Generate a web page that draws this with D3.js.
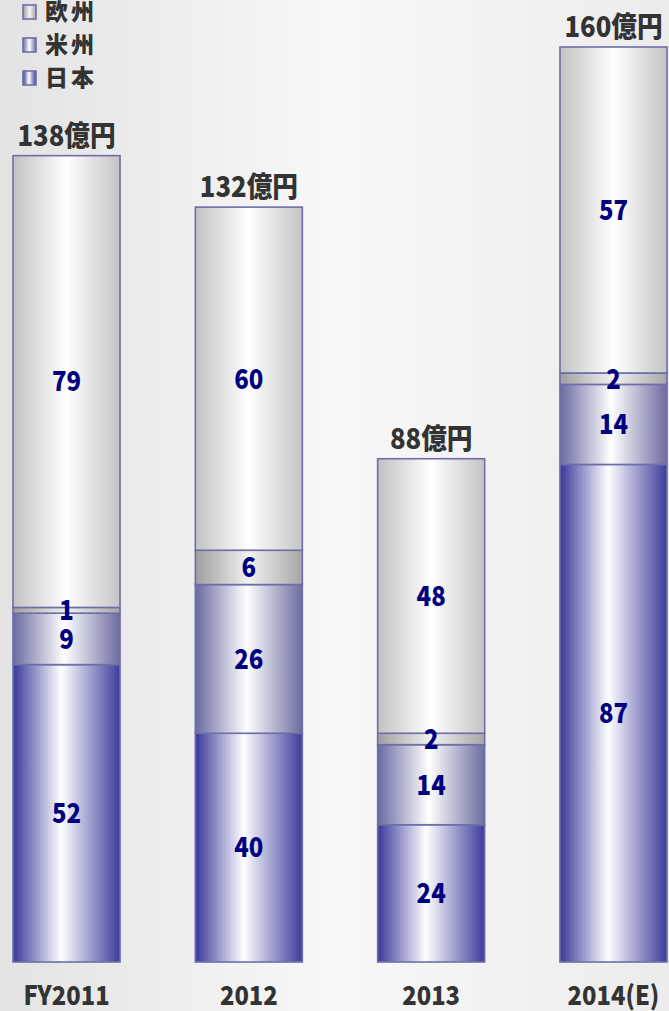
<!DOCTYPE html>
<html><head><meta charset="utf-8">
<script src="https://cdn.jsdelivr.net/npm/d3@7"></script>
<style>body{margin:0;padding:0;overflow:hidden}svg{display:block}</style>
</head><body>
<script>
const categories = ["FY2011", "2012", "2013", "2014(E)"];
const japan = [52, 40, 24, 87];
const americas = [9, 26, 14, 14];
const europe = [1, 6, 2, 2];
const other = [79, 60, 48, 57];
const totalLabels = ["138億円", "132億円", "88億円", "160億円"];
const seriesNames = ["日本", "米州", "欧州", "その他"];
const legendNames = ["欧州", "米州", "日本"];

const W = 669, H = 1011;
const svg = d3.select("body").append("svg").attr("width", W).attr("height", H);
const defs = svg.append("defs");

const bg = defs.append("linearGradient").attr("id", "bg").attr("x1", 0).attr("x2", 1).attr("y1", 0).attr("y2", 0);
[["0%", "#e3e3e3"], ["50%", "#f8f8f8"], ["100%", "#ececec"]].forEach(s => bg.append("stop").attr("offset", s[0]).attr("stop-color", s[1]));
svg.append("rect").attr("width", W).attr("height", H).attr("fill", "url(#bg)");

const grads = {
  "日本": [["0%", "#38389a"], ["45%", "#ffffff"], ["100%", "#3c3c9c"]],
  "米州": [["0%", "#6a6aa2"], ["48%", "#ffffff"], ["100%", "#6c6ca0"]],
  "欧州": [["0%", "#9e9e9e"], ["50%", "#f2f2f2"], ["100%", "#a6a6a6"]],
  "その他": [["0%", "#c2c2c2"], ["50%", "#ffffff"], ["100%", "#c4c4c4"]]
};
seriesNames.forEach((n, i) => {
  const g = defs.append("linearGradient").attr("id", "g" + i).attr("x1", 0).attr("x2", 1).attr("y1", 0).attr("y2", 0);
  grads[n].forEach(s => g.append("stop").attr("offset", s[0]).attr("stop-color", s[1]));
});

const data = categories.map((c, i) => ({cat: c, "日本": japan[i], "米州": americas[i], "欧州": europe[i], "その他": other[i], label: totalLabels[i]}));
const stack = d3.stack().keys(seriesNames)(data);

const x = d3.scaleBand().domain(categories).range([13, 667]).paddingInner(0.413).paddingOuter(0);
const y = d3.scaleLinear().domain([0, 160]).range([962, 47]);

const fontF = "'Noto Sans CJK JP','Noto Sans',sans-serif";

stack.forEach((layer, li) => {
  const g = svg.append("g");
  g.selectAll("rect").data(layer).join("rect")
    .attr("x", d => x(d.data.cat))
    .attr("y", d => y(d[1]))
    .attr("width", x.bandwidth())
    .attr("height", d => y(d[0]) - y(d[1]))
    .attr("fill", "url(#g" + li + ")")
    .attr("stroke", "#6e6ea8").attr("stroke-width", 1.6);
});

stack.forEach((layer, li) => {
  svg.append("g").selectAll("text").data(layer).join("text")
    .attr("transform", d => `translate(${x(d.data.cat) + x.bandwidth() / 2},${(y(d[0]) + y(d[1])) / 2}) scale(0.92,1.05)`)
    .attr("dy", "0.36em")
    .attr("text-anchor", "middle")
    .attr("font-family", fontF).attr("font-weight", 900).attr("font-size", 26)
    .attr("fill", "#000080")
    .text(d => d[1] - d[0]);
});

// totals
svg.append("g").selectAll("text").data(data).join("text")
  .attr("transform", (d, i) => `translate(${x(d.cat) + x.bandwidth() / 2},${y(stack[3][i][1]) - 10}) scale(0.95,1.05)`)
  .attr("text-anchor", "middle")
  .attr("font-family", fontF).attr("font-weight", 900).attr("font-size", 27)
  .attr("fill", "#333333")
  .text(d => d.label);

// category labels
svg.append("g").selectAll("text").data(categories).join("text")
  .attr("transform", d => `translate(${x(d) + x.bandwidth() / 2},1005) scale(0.95,1.05)`)
  .attr("text-anchor", "middle")
  .attr("font-family", fontF).attr("font-weight", 900).attr("font-size", 25)
  .attr("fill", "#333333")
  .text(d => d);

// legend
const lg = svg.append("g");
legendNames.forEach((n, i) => {
  const cy = 12 + i * 33;
  const si = seriesNames.indexOf(n);
  lg.append("rect").attr("x", 23).attr("y", cy - 7).attr("width", 13).attr("height", 14)
    .attr("fill", "url(#g" + si + ")").attr("stroke", "#6e6ea8").attr("stroke-width", 1.6);
  lg.append("text").attr("x", 45).attr("y", cy).attr("dy", "0.36em")
    .attr("font-family", fontF).attr("font-weight", 900).attr("font-size", 23)
    .attr("letter-spacing", 3).attr("fill", "#333333").text(n);
});
</script>
</body></html>
